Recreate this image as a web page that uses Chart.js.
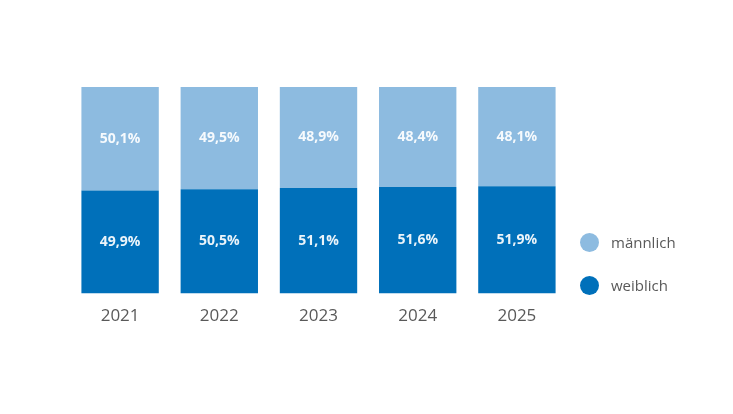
<!DOCTYPE html>
<html>
<head>
<meta charset="utf-8">
<script src="https://cdn.jsdelivr.net/npm/chart.js@4"></script>
<style>
  body { margin: 0; background: #fff; }
  #wrap { position: relative; width: 733px; height: 414px; }
  .leg { position: absolute; left: 580px; font: 15px "Open Sans", sans-serif; color: #595959; display: flex; align-items: center; }
  .leg i { display: inline-block; width: 19px; height: 19px; border-radius: 50%; margin-right: 12px; }
</style>
</head>
<body>
<div id="wrap">
  <canvas id="c" width="733" height="414"></canvas>
  <div class="leg" style="top:232px"><i style="background:#8dbbe0"></i>männlich</div>
  <div class="leg" style="top:275px"><i style="background:#0070ba"></i>weiblich</div>
</div>
<script>
// Anteile in Prozent
const years = ['2021', '2022', '2023', '2024', '2025'];
const weiblich = [49.9, 50.5, 51.1, 51.6, 51.9];
const maennlich = [50.1, 49.5, 48.9, 48.4, 48.1];

const fmt = v => v.toFixed(1).replace('.', ',') + '%';

// Werte in die Balken schreiben
const barLabels = {
    id: 'barLabels',
    afterDatasetsDraw(chart) {
        const ctx = chart.ctx;
        ctx.save();
        ctx.font = 'bold 14px "Open Sans", sans-serif';
        ctx.fillStyle = 'rgba(255,255,255,0.92)';
        ctx.textAlign = 'center';
        ctx.textBaseline = 'middle';
        chart.data.datasets.forEach((ds, i) => {
            chart.getDatasetMeta(i).data.forEach((bar, j) => {
                const mid = (bar.y + bar.base) / 2;
                ctx.fillText(fmt(ds.data[j]), bar.x, mid);
            });
        });
        ctx.restore();
    }
};

new Chart(document.getElementById('c'), {
    type: 'bar',
    data: {
        labels: years,
        datasets: [
            { label: 'weiblich', data: weiblich, backgroundColor: '#0070ba' },
            { label: 'männlich', data: maennlich, backgroundColor: '#8dbbe0' }
        ]
    },
    options: {
        responsive: false,
        animation: false,
        layout: { padding: { left: 70.5, right: 166.5, top: 87, bottom: 84 } },
        datasets: { bar: { categoryPercentage: 1, barPercentage: 0.78 } },
        plugins: { legend: { display: false }, tooltip: { enabled: false } },
        scales: {
            x: {
                stacked: true,
                grid: { display: false },
                border: { display: false },
                ticks: { color: '#595959', font: { size: 17, family: '"Open Sans", sans-serif' }, padding: 4 }
            },
            y: { stacked: true, display: false, min: 0, max: 100 }
        }
    },
    plugins: [barLabels]
});
</script>
</body>
</html>
